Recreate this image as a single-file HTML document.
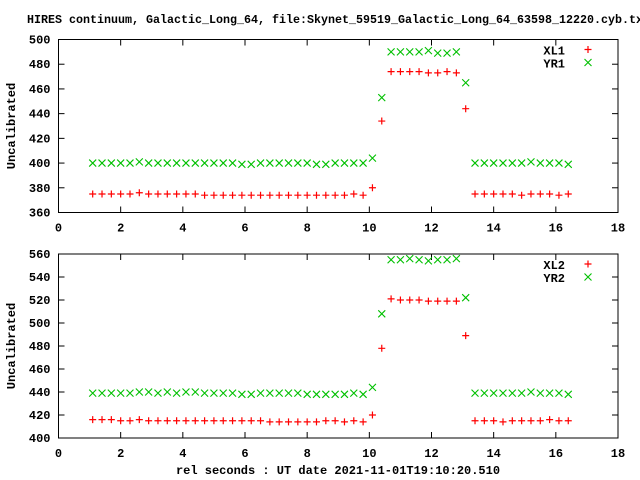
<!DOCTYPE html>
<html><head><meta charset="utf-8"><style>
body{margin:0;background:#fff;}
svg{display:block;}
text{font-family:"Liberation Mono",monospace;font-weight:bold;font-size:12px;fill:#000;}
</style></head><body>
<svg id="chart" width="640" height="480">
<text x="27" y="23" textLength="623" lengthAdjust="spacingAndGlyphs">HIRES continuum, Galactic_Long_64, file:Skynet_59519_Galactic_Long_64_63598_12220.cyb.txt</text>
<text x="338" y="474" text-anchor="middle">rel seconds : UT date 2021-11-01T19:10:20.510</text>
</svg>
<script>
const times = [1.1,1.4,1.7,2.0,2.3,2.6,2.9,3.2,3.5,3.8,4.1,4.4,4.7,5.0,5.3,5.6,5.9,6.2,6.5,6.8,7.1,7.4,7.7,8.0,8.3,8.6,8.9,9.2,9.5,9.8,10.1,10.4,10.7,11.0,11.3,11.6,11.9,12.2,12.5,12.8,13.1,13.4,13.7,14.0,14.3,14.6,14.9,15.2,15.5,15.8,16.1,16.4];
const xl1 = [375,375,375,375,375,376,375,375,375,375,375,375,374,374,374,374,374,374,374,374,374,374,374,374,374,374,374,374,375,374,380,434,474,474,474,474,473,473,474,473,444,375,375,375,375,375,374,375,375,375,374,375];
const yr1 = [400,400,400,400,400,401,400,400,400,400,400,400,400,400,400,400,399,399,400,400,400,400,400,400,399,399,400,400,400,400,404,453,490,490,490,490,491,489,489,490,465,400,400,400,400,400,400,401,400,400,400,399];
const xl2 = [416,416,416,415,415,416,415,415,415,415,415,415,415,415,415,415,415,415,415,414,414,414,414,414,414,415,415,414,415,414,420,478,521,520,520,520,519,519,519,519,489,415,415,415,414,415,415,415,415,416,415,415];
const yr2 = [439,439,439,439,439,440,440,439,440,439,440,440,439,439,439,439,438,438,439,439,439,439,439,438,438,438,438,438,439,438,444,508,555,555,556,555,554,555,555,556,522,439,439,439,439,439,439,440,439,439,439,438];
const xTicks = [0,2,4,6,8,10,12,14,16,18];
const yTicksTop = [360,380,400,420,440,460,480,500];
const yTicksBot = [400,420,440,460,480,500,520,540,560];
const seriesNames = [["XL1","YR1"],["XL2","YR2"]];

const NS="http://www.w3.org/2000/svg";
const svg=document.getElementById('chart');
function mk(tag,attrs,parent){const e=document.createElementNS(NS,tag);for(const k in attrs)e.setAttribute(k,attrs[k]);(parent||svg).appendChild(e);return e;}
const L=58.5,R=618;
function xs(t){return L+(t-0)/(18-0)*(R-L);}

function panel(idx,top,bot,ymin,ymax,yt,s1,s2,names){
  const g=mk('g',{});
  
  
  const ys=v=>bot-(v-ymin)/(ymax-ymin)*(bot-top);
  const frame=mk('rect',{x:L,y:top,width:R-L,height:bot-top,fill:'none',stroke:'#000','stroke-width':1},g);
  
  
  xTicks.forEach(t=>{
    const x=xs(t);
    mk('line',{x1:x,y1:bot,x2:x,y2:bot-6,stroke:'#000'},g);
    mk('line',{x1:x,y1:top,x2:x,y2:top+6,stroke:'#000'},g);
    const tx=mk('text',{x:x,y:bot+19,'text-anchor':'middle'},g);
    tx.textContent=t;
    
    
  });
  yt.forEach(v=>{
    const y=ys(v);
    mk('line',{x1:L,y1:y,x2:L+6,y2:y,stroke:'#000'},g);
    mk('line',{x1:R,y1:y,x2:R-6,y2:y,stroke:'#000'},g);
    const tx=mk('text',{x:L-8,y:y+4,'text-anchor':'end'},g);
    tx.textContent=v;
    
    
  });
  const yl=mk('text',{x:0,y:0,'text-anchor':'middle',transform:`translate(15,${(top+bot)/2}) rotate(-90)`},g);
  yl.textContent='Uncalibrated';
  
  
  function plus(x,y,parent){const p=mk('path',{d:`M${x-3.5},${y}H${x+3.5}M${x},${y-3.5}V${y+3.5}`,stroke:'#ff0000','stroke-width':1.2,fill:'none'},parent);return p;}
  function cross(x,y,parent){const p=mk('path',{d:`M${x-3.5},${y-3.5}L${x+3.5},${y+3.5}M${x-3.5},${y+3.5}L${x+3.5},${y-3.5}`,stroke:'#00c000','stroke-width':1.1,fill:'none'},parent);return p;}
  const g1=mk('g',{},g);
  
  
  const g2=mk('g',{},g);
  
  
  times.forEach((t,i)=>{
    const p=plus(xs(t),ys(s1[i]),g1);
    
    
    const c=cross(xs(t),ys(s2[i]),g2);
    
    
  });
  const lg=mk('g',{},g);
  
  
  const t1=mk('text',{x:565,y:top+15,'text-anchor':'end'},lg);t1.textContent=names[0];
  
  
  const t2=mk('text',{x:565,y:top+28,'text-anchor':'end'},lg);t2.textContent=names[1];
  
  
  plus(588,top+10,lg);cross(588,top+23,lg);
}
panel(0,39.5,212.5,360,500,yTicksTop,xl1,yr1,seriesNames[0]);
panel(1,254,438,400,560,yTicksBot,xl2,yr2,seriesNames[1]);
</script>
</body></html>
